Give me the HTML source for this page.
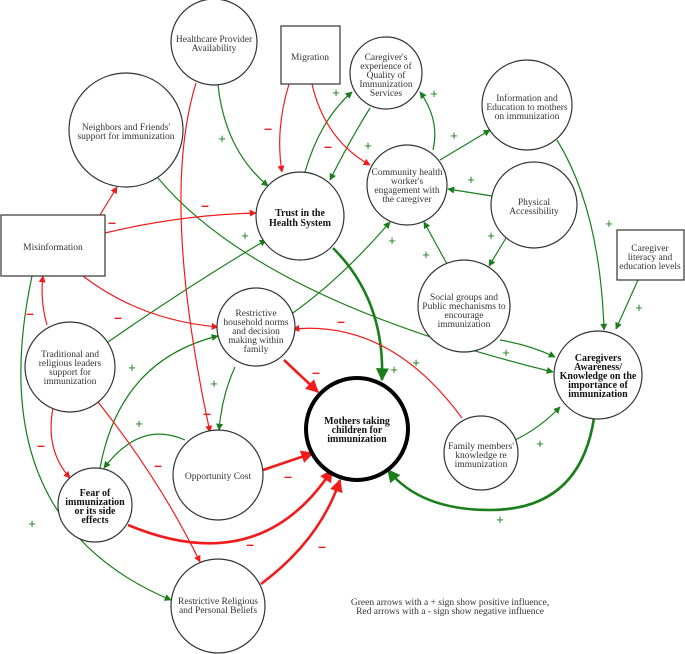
<!DOCTYPE html>
<html><head><meta charset="utf-8"><style>
html,body{margin:0;padding:0;background:#fff}
svg{display:block}
text{font-family:"Liberation Serif",serif;font-size:9.5px;fill:#333;text-anchor:middle}
.b{font-weight:bold;fill:#111;font-size:10px}
.g{stroke:#1a7f1a;fill:none;stroke-width:1.2}
.r{stroke:#f01c1c;fill:none;stroke-width:1.2}
.gt{stroke:#1a7f1a;fill:none;stroke-width:2.6}
.rt{stroke:#f01c1c;fill:none;stroke-width:2.6}
.n{fill:#fff;stroke:#333;stroke-width:1.2}
.pg{fill:#1a7f1a;font-size:13px;font-family:"Liberation Sans",sans-serif}
.mr{fill:#f01c1c;font-size:14px;font-weight:bold;font-family:"Liberation Sans",sans-serif}
</style></head><body>
<svg width="685" height="654" viewBox="0 0 685 654">
<defs>
<marker id="ag" viewBox="0 0 10 10" refX="9" refY="5" markerWidth="7" markerHeight="7" orient="auto" markerUnits="userSpaceOnUse"><path d="M0,0L10,5L0,10z" fill="#1a7f1a"/></marker>
<marker id="ar" viewBox="0 0 10 10" refX="9" refY="5" markerWidth="7" markerHeight="7" orient="auto" markerUnits="userSpaceOnUse"><path d="M0,0L10,5L0,10z" fill="#f01c1c"/></marker>
<marker id="agb" viewBox="0 0 10 10" refX="9" refY="5" markerWidth="5" markerHeight="5" orient="auto"><path d="M0,0L10,5L0,10z" fill="#1a7f1a"/></marker>
<marker id="arb" viewBox="0 0 10 10" refX="9" refY="5" markerWidth="5" markerHeight="5" orient="auto"><path d="M0,0L10,5L0,10z" fill="#f01c1c"/></marker>
</defs>
<g marker-end="url(#ag)">
<path class="g" d="M218,85 Q225,150 268,186"/>
<path class="g" d="M370,108 Q350,140 330,180"/>
<path class="g" d="M305,172 Q320,120 352,92"/>
<path class="g" d="M433,150 Q440,120 420,92"/>
<path class="g" d="M440,160 L490,130"/>
<path class="g" d="M492,196 L448,189"/>
<path class="g" d="M506,238 L489,266"/>
<path class="g" d="M447,264 L424,222"/>
<path class="g" d="M290,315 Q340,280 390,222"/>
<path class="g" d="M108,342 Q190,285 266,240"/>
<path class="g" d="M557,140 Q600,210 604,330"/>
<path class="g" d="M638,280 L616,329"/>
<path class="g" d="M500,340 Q530,345 555,357"/>
<path class="g" d="M158,178 Q260,300 553,372"/>
<path class="g" d="M515,440 Q540,428 560,407"/>
<path class="g" d="M235,367 Q222,395 219,430"/>
<path class="g" d="M185,440 Q140,420 104,468"/>
<path class="g" d="M100,468 Q120,360 218,336"/>
<path class="g" d="M32,276 Q-20,520 171,600"/>
</g>
<path class="gt" marker-end="url(#agb)" d="M333,248 Q385,300 382,380"/>
<path class="gt" marker-end="url(#agb)" d="M594,418 Q580,510 490,510 Q420,510 388,470"/>
<g marker-end="url(#ar)">
<path class="r" d="M196,83 Q160,200 210,432"/>
<path class="r" d="M289,84 Q275,130 282,172"/>
<path class="r" d="M312,84 Q325,140 370,165"/>
<path class="r" d="M100,215 L117,187"/>
<path class="r" d="M105,233 Q180,215 256,213"/>
<path class="r" d="M83,276 Q140,320 218,327"/>
<path class="r" d="M47,325 Q40,300 43,276"/>
<path class="r" d="M53,408 Q45,450 70,478"/>
<path class="r" d="M98,402 Q160,480 200,562"/>
<path class="r" d="M462,418 Q390,320 293,329"/>
</g>
<g marker-end="url(#arb)">
<path class="rt" d="M284,360 L318,392"/>
<path class="rt" d="M263,470 L313,453"/>
<path class="rt" d="M128,525 Q260,580 332,470"/>
<path class="rt" d="M261,584 Q320,540 340,480"/>
</g>
<circle class="n" cx="214" cy="42" r="43"/>
<rect class="n" x="281" y="26" width="59" height="58"/>
<circle class="n" cx="386" cy="73" r="36"/>
<circle class="n" cx="527" cy="105" r="45"/>
<circle class="n" cx="126" cy="130" r="57"/>
<circle class="n" cx="300" cy="216" r="44"/>
<circle class="n" cx="407" cy="185" r="40"/>
<circle class="n" cx="534" cy="205" r="43"/>
<rect class="n" x="1" y="215" width="104" height="61"/>
<rect class="n" x="617" y="230" width="67" height="50"/>
<circle class="n" cx="464" cy="306" r="46"/>
<circle class="n" cx="256" cy="327" r="39"/>
<circle class="n" cx="70" cy="367" r="45"/>
<circle cx="357" cy="429" r="51" fill="#fff" stroke="#000" stroke-width="4"/>
<circle class="n" cx="95" cy="505" r="37"/>
<circle class="n" cx="218" cy="475" r="45"/>
<circle class="n" cx="481" cy="453" r="37"/>
<circle class="n" cx="598" cy="375" r="44"/>
<circle class="n" cx="218" cy="606" r="47"/>
<text x="214" y="42">Healthcare Provider</text><text x="214" y="51">Availability</text>
<text x="310" y="60">Migration</text>
<text x="386" y="60">Caregiver's</text><text x="386" y="69">experience of</text><text x="386" y="78">Quality of</text><text x="386" y="87">Immunization</text><text x="386" y="96">Services</text>
<text x="527" y="101">Information and</text><text x="527" y="110">Education to mothers</text><text x="527" y="119">on immunization</text>
<text x="126" y="130">Neighbors and Friends'</text><text x="126" y="139">support for immunization</text>
<text class="b" x="300" y="216">Trust in the</text><text class="b" x="300" y="226">Health System</text>
<text x="407" y="175">Community health</text><text x="407" y="184">worker's</text><text x="407" y="193">engagement with</text><text x="407" y="202">the caregiver</text>
<text x="534" y="205">Physical</text><text x="534" y="214">Accessibility</text>
<text x="53" y="250">Misinformation</text>
<text x="650" y="251">Caregiver</text><text x="650" y="260">literacy and</text><text x="650" y="269">education levels</text>
<text x="464" y="300">Social groups and</text><text x="464" y="309">Public mechanisms to</text><text x="464" y="318">encourage</text><text x="464" y="327">immunization</text>
<text x="256" y="316">Restrictive</text><text x="256" y="325">household norms</text><text x="256" y="334">and decision</text><text x="256" y="343">making within</text><text x="256" y="352">family</text>
<text x="70" y="357">Traditional and</text><text x="70" y="366">religious leaders</text><text x="70" y="375">support for</text><text x="70" y="384">immunization</text>
<text class="b" x="357" y="424">Mothers taking</text><text class="b" x="357" y="433">children for</text><text class="b" x="357" y="442">immunization</text>
<text class="b" x="95" y="496">Fear of</text><text class="b" x="95" y="505">immunization</text><text class="b" x="95" y="514">or its side</text><text class="b" x="95" y="523">effects</text>
<text x="218" y="479">Opportunity Cost</text>
<text x="481" y="449">Family members'</text><text x="481" y="458">knowledge re</text><text x="481" y="467">immunization</text>
<text class="b" x="598" y="361">Caregivers</text><text class="b" x="598" y="370">Awareness/</text><text class="b" x="598" y="379">Knowledge on the</text><text class="b" x="598" y="388">importance of</text><text class="b" x="598" y="397">immunization</text>
<text x="218" y="604">Restrictive Religious</text><text x="218" y="613">and Personal Beliefs</text>
<text x="450" y="605">Green arrows with a + sign show positive influence,</text>
<text x="450" y="614">Red arrows with a - sign show negative influence</text>
<g><text class="pg" x="222" y="143">+</text><text class="pg" x="368" y="150">+</text><text class="pg" x="336" y="97">+</text><text class="pg" x="434" y="98">+</text><text class="pg" x="454" y="140">+</text><text class="pg" x="471" y="184">+</text><text class="pg" x="491" y="240">+</text><text class="pg" x="426" y="259">+</text><text class="pg" x="392" y="245">+</text><text class="pg" x="245" y="240">+</text><text class="pg" x="609" y="228">+</text><text class="pg" x="639" y="312">+</text><text class="pg" x="506" y="357">+</text><text class="pg" x="416" y="367">+</text><text class="pg" x="540" y="448">+</text><text class="pg" x="500" y="524">+</text><text class="pg" x="394" y="374">+</text><text class="pg" x="214" y="388">+</text><text class="pg" x="139" y="428">+</text><text class="pg" x="132" y="372">+</text><text class="pg" x="32" y="528">+</text></g>
<g><text class="mr" x="207" y="418">–</text><text class="mr" x="268" y="133">–</text><text class="mr" x="328" y="151">–</text><text class="mr" x="112" y="227">–</text><text class="mr" x="205" y="210">–</text><text class="mr" x="118" y="322">–</text><text class="mr" x="30" y="318">–</text><text class="mr" x="41" y="450">–</text><text class="mr" x="158" y="470">–</text><text class="mr" x="316" y="377">–</text><text class="mr" x="288" y="481">–</text><text class="mr" x="250" y="549">–</text><text class="mr" x="322" y="551">–</text><text class="mr" x="341" y="326">–</text></g>
</svg>
</body></html>
